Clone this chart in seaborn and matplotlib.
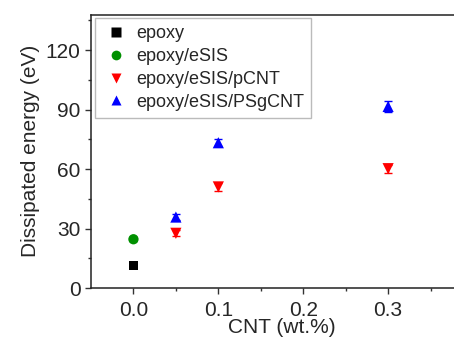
import numpy as np
import pandas as pd
import matplotlib
matplotlib.use('Agg')
import matplotlib.pyplot as plt
from matplotlib.ticker import MultipleLocator, FixedLocator
import seaborn as sns

# values
samples = ['epoxy', 'epoxy/eSIS', 'epoxy/eSIS/pCNT', 'epoxy/eSIS/PSgCNT']
epoxy_x = [0.0]
epoxy_y = [11.3]
epoxy_err = [1.0]
esis_x = [0.0]
esis_y = [24.6]
esis_err = [1.0]
pcnt_x = [0.05, 0.1, 0.3]
pcnt_y = [27.6, 51.0, 60.2]
pcnt_err = [1.5, 2.0, 2.0]
psg_x = [0.05, 0.1, 0.3]
psg_y = [35.8, 73.3, 91.6]
psg_err = [1.5, 1.8, 2.6]
x_ticks = [0.0, 0.1, 0.2, 0.3]

colors = {'epoxy': 'black', 'epoxy/eSIS': '#009000',
          'epoxy/eSIS/pCNT': '#ff0000', 'epoxy/eSIS/PSgCNT': '#0000ff'}
markers = {'epoxy': 's', 'epoxy/eSIS': 'o',
           'epoxy/eSIS/pCNT': 'v', 'epoxy/eSIS/PSgCNT': '^'}
sizes = {'epoxy': 40, 'epoxy/eSIS': 55, 'epoxy/eSIS/pCNT': 65, 'epoxy/eSIS/PSgCNT': 65}


def main():
    sns.set_style('ticks')
    plt.rcParams['font.family'] = ['Liberation Sans', 'DejaVu Sans']

    rows = []
    for name, xs, ys, es in [(samples[0], epoxy_x, epoxy_y, epoxy_err),
                             (samples[1], esis_x, esis_y, esis_err),
                             (samples[2], pcnt_x, pcnt_y, pcnt_err),
                             (samples[3], psg_x, psg_y, psg_err)]:
        for x, y, e in zip(xs, ys, es):
            rows.append({'sample': name, 'cnt': x, 'energy': y, 'err': e})
    df = pd.DataFrame(rows)

    fig = plt.figure(figsize=(4.54, 3.38), dpi=100)
    ax = fig.add_axes([91 / 454, 50 / 338, (473 - 91) / 454, (288 - 14.5) / 338])

    for name in samples:
        d = df[df['sample'] == name]
        ax.errorbar(d['cnt'], d['energy'], yerr=d['err'], fmt='none',
                    ecolor=colors[name], elinewidth=1, capsize=3, zorder=2)

    sns.scatterplot(data=df, x='cnt', y='energy', hue='sample', style='sample',
                    size='sample', sizes=sizes,
                    hue_order=samples, style_order=samples, size_order=samples,
                    palette=colors, markers=markers, edgecolor='none',
                    ax=ax, zorder=3)

    ax.set_xlim(-0.05, 0.4)
    ax.set_ylim(0, 138)
    ax.xaxis.set_major_locator(FixedLocator(x_ticks))
    ax.xaxis.set_minor_locator(FixedLocator([0.05, 0.15, 0.25, 0.35]))
    ax.yaxis.set_major_locator(MultipleLocator(30))
    ax.yaxis.set_minor_locator(MultipleLocator(15))
    ax.xaxis.set_major_formatter(plt.FuncFormatter(lambda v, p: f'{v:.1f}'))
    ax.tick_params(which='major', length=4, width=1, labelsize=15, color='#333333')
    ax.tick_params(which='minor', length=2.5, width=1, color='#333333')
    ax.tick_params(axis='x', pad=5)
    for s in ax.spines.values():
        s.set_color('#222222')
        s.set_linewidth(1.1)

    ax.set_xlabel('CNT (wt.%)', fontsize=15, labelpad=-1)
    ax.set_ylabel('Dissipated energy (eV)', fontsize=15, labelpad=4)

    handles, labels = ax.get_legend_handles_labels()
    leg = ax.legend(handles, labels, loc='upper left', fontsize=13, frameon=True,
                    fancybox=False, edgecolor='#aaaaaa', handletextpad=0.3,
                    borderaxespad=0.2, labelspacing=0.32, borderpad=0.4,
                    handlelength=1.6)
    leg.get_frame().set_linewidth(1)
    for h in leg.legend_handles:
        h.set_markersize(7)

    plt.savefig('out.png', dpi=100)
    plt.close()


if __name__ == '__main__':
    main()
